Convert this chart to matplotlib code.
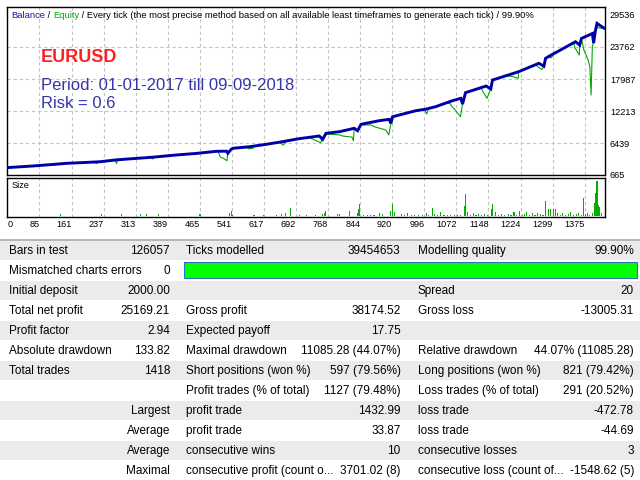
import matplotlib
matplotlib.use("Agg")
import matplotlib.pyplot as plt
from matplotlib.patches import Rectangle
import numpy as np

plt.rcParams["font.family"] = ["Liberation Sans", "DejaVu Sans"]

x_labels = ["0", "85", "161", "237", "313", "389", "465", "541", "617", "692",
            "768", "844", "920", "996", "1072", "1148", "1224", "1299", "1375"]
y_ticks = [665, 6439, 12213, 17987, 23762, 29536]

bal_t = [0, 60, 113, 140, 211, 220, 259, 275, 340, 345, 400, 448, 456, 496, 520,
         523, 531, 535, 575, 614, 653, 692, 740, 748, 756, 788, 823, 831, 839,
         882, 906, 910, 914, 969, 993, 1016, 1056, 1076, 1080, 1087, 1136, 1147,
         1151, 1213, 1261, 1273, 1277, 1290, 1309, 1348, 1358, 1362, 1380, 1388,
         1391, 1395, 1399, 1411, 1416]
bal_v = [2000, 2290, 2600, 2770, 3020, 3060, 3400, 3490, 3850, 3880, 4270, 4560,
         4620, 4940, 4960, 4580, 5300, 5480, 5770, 6200, 6680, 7220, 7700, 7100,
         8180, 8480, 9090, 8660, 9810, 10460, 10710, 9990, 11180, 12260, 12550,
         12990, 14070, 14500, 13470, 15520, 16720, 16200, 17800, 19300, 20820,
         20300, 21720, 22300, 23080, 24710, 24120, 25300, 25920, 26200, 24480,
         26600, 28030, 27400, 27169]

eq_t = [0, 60, 110, 113, 116, 140, 208, 211, 215, 220, 255, 259, 262, 275, 340,
        345, 348, 400, 445, 448, 452, 496, 500, 505, 512, 521, 523, 531, 535,
        567, 572, 582, 585, 614, 645, 655, 661, 692, 716, 730, 743, 748, 756,
        760, 790, 795, 818, 821, 823, 831, 839, 845, 862, 870, 898, 905, 910,
        914, 969, 990, 995, 999, 1016, 1040, 1050, 1055, 1063, 1075, 1080, 1087,
        1123, 1130, 1138, 1147, 1151, 1182, 1200, 1212, 1213, 1253, 1260, 1268,
        1273, 1277, 1284, 1290, 1296, 1309, 1344, 1346, 1357, 1358, 1362, 1368,
        1378, 1382, 1385, 1388, 1391, 1395, 1399, 1411, 1416]
eq_v = [2000, 2290, 2600, 2450, 2620, 2770, 3000, 2700, 3040, 3060, 3380, 2750,
        3420, 3490, 3850, 3550, 3870, 4270, 4540, 4350, 4580, 4940, 4940, 3900,
        3700, 3245, 4580, 5300, 5480, 5700, 5400, 5450, 5800, 6200, 6550, 6080,
        6700, 7220, 7450, 6950, 6490, 7100, 8180, 8050, 7880, 7700, 7500, 6850,
        9090, 8660, 9810, 9690, 9690, 9390, 8780, 7880, 9990, 11180, 12260,
        12500, 11670, 12600, 12990, 13600, 13600, 13000, 12390, 11180, 13470,
        15520, 16500, 15500, 14500, 16200, 17800, 18600, 18400, 18100, 19300,
        20600, 20100, 19730, 20300, 21720, 22000, 21800, 22400, 23080, 24600,
        23700, 22320, 24120, 25300, 23200, 21410, 20210, 15100, 24000, 24480,
        26600, 27300, 27100, 27169]

size_t = [125, 224, 270, 316, 331, 358, 457, 528, 531, 534, 585, 607, 638, 650,
          660, 671, 694, 710, 731, 747, 752, 755, 783, 788, 812, 831, 834, 836,
          845, 855, 862, 870, 882, 890, 910, 913, 918, 936, 942, 950, 958, 966,
          975, 984, 994, 1000, 1008, 1013, 1020, 1028, 1036, 1044, 1052, 1060,
          1068, 1076, 1084, 1087, 1091, 1098, 1105, 1112, 1118, 1125, 1132, 1140,
          1149, 1152, 1158, 1165, 1172, 1180, 1188, 1195, 1202, 1209, 1216, 1222,
          1226, 1231, 1238, 1245, 1252, 1258, 1265, 1271, 1277, 1283, 1288, 1295,
          1300, 1306, 1312, 1318, 1325, 1331, 1337, 1343, 1350, 1356, 1362, 1366,
          1371, 1376, 1382, 1388, 1394, 1396, 1399, 1402, 1405, 1409]
size_lots = [0.20, 0.20, 0.23, 0.20, 0.20, 0.20, 0.17, 0.33, 0.47, 0.13, 0.13,
             0.13, 0.13, 0.17, 0.33, 0.80, 0.13, 0.13, 0.13, 0.20, 0.33, 0.47,
             0.23, 0.23, 0.47, 0.27, 0.67, 1.20, 0.13, 0.13, 0.13, 0.13, 0.27,
             0.20, 0.47, 1.20, 0.40, 0.20, 0.13, 0.27, 0.13, 0.13, 0.13, 0.13,
             0.33, 0.13, 0.83, 0.20, 0.13, 0.37, 0.13, 0.13, 0.13, 0.13, 0.13,
             0.13, 1.00, 2.20, 0.43, 0.13, 0.27, 0.13, 0.20, 0.13, 0.20, 0.13,
             0.67, 1.20, 0.40, 0.13, 0.20, 0.13, 0.20, 0.13, 0.40, 0.13, 0.47,
             0.13, 0.20, 0.43, 0.13, 0.27, 0.13, 0.27, 0.20, 0.13, 1.50, 0.73,
             0.73, 0.73, 0.67, 0.27, 0.13, 0.27, 0.13, 0.20, 0.40, 0.13, 0.20,
             0.33, 0.13, 1.80, 0.20, 0.33, 0.13, 0.27, 1.33, 2.27, 3.53, 1.10,
             0.93, 0.27]

table_rows = [
    ["Bars in test", "126057", "Ticks modelled", "39454653", "Modelling quality", "99.90%"],
    ["Mismatched charts errors", "0", "", "", "", ""],
    ["Initial deposit", "2000.00", "", "", "Spread", "20"],
    ["Total net profit", "25169.21", "Gross profit", "38174.52", "Gross loss", "-13005.31"],
    ["Profit factor", "2.94", "Expected payoff", "17.75", "", ""],
    ["Absolute drawdown", "133.82", "Maximal drawdown", "11085.28 (44.07%)",
     "Relative drawdown", "44.07% (11085.28)"],
    ["Total trades", "1418", "Short positions (won %)", "597 (79.56%)",
     "Long positions (won %)", "821 (79.42%)"],
    ["", "", "Profit trades (% of total)", "1127 (79.48%)",
     "Loss trades (% of total)", "291 (20.52%)"],
    ["", "Largest", "profit trade", "1432.99", "loss trade", "-472.78"],
    ["", "Average", "profit trade", "33.87", "loss trade", "-44.69"],
    ["", "Average", "consecutive wins", "10", "consecutive losses", "3"],
    ["", "Maximal", "consecutive profit (count o...", "3701.02 (8)",
     "consecutive loss (count of...", "-1548.62 (5)"],
]

# ---- layout in pixels ----
W, H = 640, 480
fig = plt.figure(figsize=(6.4, 4.8), dpi=100)


def px_axes(x0, y0, x1, y1):
    return fig.add_axes([x0 / W, 1 - y1 / H, (x1 - x0) / W, (y1 - y0) / H])


tab = fig.add_axes([0, 0, 1, 1])
tab.set_xlim(0, W)
tab.set_ylim(H, 0)
tab.axis("off")

XMAX = 1418
grid_x = np.arange(len(x_labels)) * 76.1
grid_style = dict(color="#c4c4c4", lw=0.8, ls=(0, (3, 2.5)))
small = 6.6

# main balance / equity chart
ax = px_axes(7.4, 6.7, 605, 175)
ax.set_xlim(0, XMAX)
ax.set_ylim(665, 31033)
for gx in grid_x[1:]:
    ax.axvline(gx, **grid_style, zorder=1)
for gy in y_ticks[1:-1]:
    ax.axhline(gy, **grid_style, zorder=1)
ax.plot(eq_t, eq_v, color="#00aa00", lw=0.8, zorder=2)
ax.plot(bal_t, bal_v, color="#0000aa", lw=2.1, zorder=3, solid_joinstyle="miter")
ax.set_xticks([])
ax.yaxis.tick_right()
ax.set_yticks(y_ticks)
ax.set_yticklabels([str(v) for v in y_ticks], fontsize=small)
ax.tick_params(axis="y", length=0, pad=3.5)
for s in ax.spines.values():
    s.set_linewidth(1.0)

# multicoloured header line
renderer = fig.canvas.get_renderer()
x = 11.2
for part, col in [("Balance", "#1a1aa0"), (" / ", "black"), ("Equity", "#00b000"),
                  (" / Every tick (the most precise method based on all available "
                   "least timeframes to generate each tick) / 99.90%", "black")]:
    t = ax.text(x, 17.5, part, color=col, fontsize=6.75, transform=tab.transData,
                ha="left", va="baseline")
    x = t.get_window_extent(renderer).x1

ax.text(41, 61.7, "EURUSD", color="#ff2020", fontsize=13, fontweight="bold",
        transform=tab.transData, va="baseline")
ax.text(41, 90, "Period: 01-01-2017 till 09-09-2018", color="#3535a8", fontsize=12,
        transform=tab.transData, va="baseline")
ax.text(41, 107.7, "Risk = 0.6", color="#3535a8", fontsize=12,
        transform=tab.transData, va="baseline")

# size panel
ax2 = px_axes(7.4, 177.7, 605, 216.7)
ax2.set_xlim(0, XMAX)
ax2.set_ylim(-0.07, 3.83)
for gx in grid_x[1:]:
    ax2.axvline(gx, **grid_style, zorder=1)
ax2.bar(size_t, size_lots, width=2.7, color="#00b000", linewidth=0, zorder=2)
ax2.set_yticks([])
ax2.set_xticks(grid_x)
ax2.set_xticklabels(x_labels, fontsize=small)
ax2.tick_params(axis="x", length=0, pad=2.5)
for i, lbl in enumerate(ax2.get_xticklabels()):
    lbl.set_ha("left" if i == 0 else "right")
for s in ax2.spines.values():
    s.set_linewidth(1.0)
ax2.text(11.4, 188, "Size", fontsize=small, transform=tab.transData, va="baseline")

# report table
tab.plot([0, W], [239.5, 239.5], color="#a8a8a8", lw=1.2)
cols = [(9, "left"), (170, "right"), (186, "left"), (400.5, "right"),
        (418, "left"), (634, "right")]
for i, row in enumerate(table_rows):
    top = 240 + 20 * i
    if i % 2 == 0:
        tab.add_patch(Rectangle((0, top + 0.5), W, 19.5, color="#ebebeb", lw=0))
    for (cx, ha), txt in zip(cols, row):
        if txt:
            tab.text(cx, top + 14.3, txt, ha=ha, va="baseline", fontsize=8.5)
tab.add_patch(Rectangle((183.5, 261.5), 453, 16, facecolor="#00ff00",
                        edgecolor="#3070c0", lw=0.8))

fig.savefig("out.png", dpi=100)
